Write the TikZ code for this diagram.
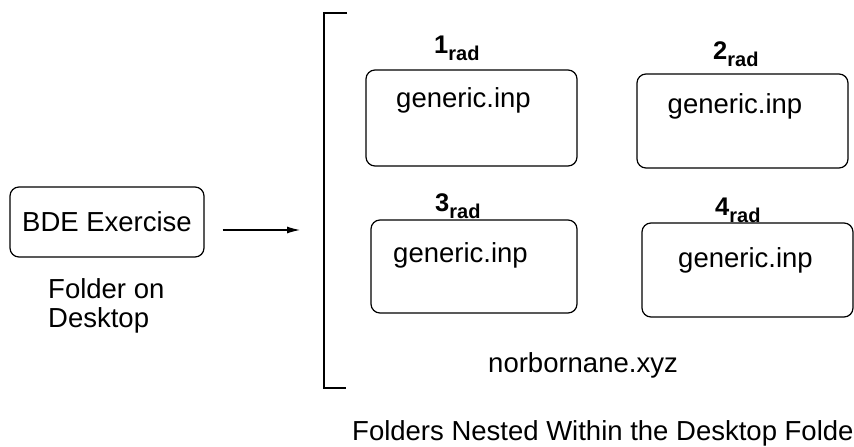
\documentclass[tikz,border=0pt]{standalone}
\usepackage{fontspec}
\setmainfont{Liberation Sans}
\usepackage{tikz}
\usetikzlibrary{
    arrows.meta,
    positioning
}
\newcommand{\radlabel}[1]{\textbf{#1}\raisebox{-7pt}{\fontsize{20}{20}\selectfont\bfseries rad}}
\tikzset{
    folderbox/.style = {rectangle, draw=black, line width=1.2pt,
                        rounded corners=9pt, inner sep=0pt},
    filetext/.style  = {anchor=base, inner sep=0pt},
    radtag/.style    = {anchor=base west, inner sep=0pt,
                        font=\fontsize{25.5}{26}\selectfont},
    bracket/.style   = {draw=black, line width=1.1pt},
    arrow/.style     = {-{Latex[length=13pt,width=7pt]}, line width=1.1pt}
}

\begin{document}
\begin{tikzpicture}[
   x=1pt, y=-1pt,
   every node/.append style = {font=\fontsize{27.5}{29}\selectfont}
]
\useasboundingbox (0,0) rectangle (854,447);

% desktop folder
\node[folderbox, minimum width=194pt, minimum height=70pt] (bde) at (107,222)
   {BDE Exercise};
\node[anchor=base west, inner sep=0pt, align=left] (bdecap) at (48,327)
   {Folder on\\Desktop};

% nested folders
\foreach \n/\cx/\cy/\w/\h in {1/471.5/118/211/96, 2/742.5/121/211/94,
                              3/474/266.5/206/93, 4/747.5/270/211/94}
   \node[folderbox, minimum width=\w pt, minimum height=\h pt] (r\n) at (\cx,\cy) {};

\foreach \n/\tx/\ty in {1/463.5/107, 2/735/113, 3/460.5/262, 4/745.5/267}
   \node[filetext] (f\n) at (\tx,\ty) {generic.inp};

\foreach \n/\lx/\ly in {1/434/53, 2/713/59, 3/435/211, 4/715/215}
   \node[radtag] (l\n) at (\lx,\ly) {\radlabel{\n}};

\node[filetext] (xyz) at (583,372) {norbornane.xyz};
\node[anchor=base west, inner sep=0pt] (nestcap) at (352,440)
   {Folders Nested Within the Desktop Folder};

% bracket and arrow
\draw[bracket] (347,13) -- (324,13) -- (324,388) -- (346,388);
\coordinate (inlet) at (300,230);
\draw[arrow] ([xshift=18pt,yshift=-8pt]bde.east) -- (inlet);
\end{tikzpicture}
\end{document}
